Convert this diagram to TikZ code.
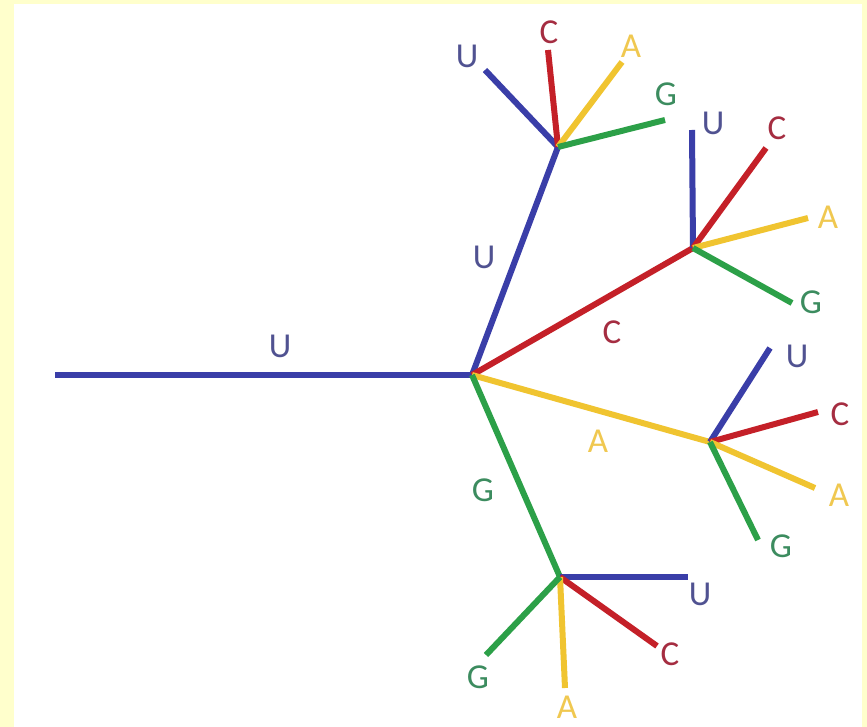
\documentclass[tikz,border=0pt]{standalone}
\usepackage{fontspec}
\setmainfont{Carlito}
\usepackage{tikz}
\usetikzlibrary{positioning}
\definecolor{bgyellow}{RGB}{255,255,204}
\definecolor{myblue}{RGB}{58,62,168}
\definecolor{myred}{RGB}{196,32,40}
\definecolor{myyellow}{RGB}{240,196,48}
\definecolor{mygreen}{RGB}{44,160,72}
\definecolor{lblblue}{RGB}{80,82,145}
\definecolor{lblred}{RGB}{165,45,65}
\definecolor{lblyellow}{RGB}{240,200,80}
\definecolor{lblgreen}{RGB}{60,140,95}

\begin{document}
\begin{tikzpicture}[x=1pt,y=-1pt,
    branch/.style={line width=6pt},
    lbl/.style={inner sep=0pt,font=\fontsize{35}{38}\selectfont}]
    % frame
    \fill[bgyellow] (0,0) rectangle (867,727);
    \fill[white] (14,4) rectangle (862,727);
    \useasboundingbox (0,0) rectangle (867,727);

    % root
    \coordinate (start) at (55,375);
    \coordinate (hub) at (472,375);
    \draw[branch,myblue] (start) -- (hub);
    \node[lbl,lblblue] (lroot) at (280,346) {U};

    % first level
    \coordinate (nu) at (558,147);
    \coordinate (nc) at (693,248);
    \coordinate (na) at (710,442);
    \coordinate (ng) at (560,577);
    \draw[branch,myblue] (hub) -- (nu);
    \draw[branch,myred] (hub) -- (nc);
    \draw[branch,myyellow] (hub) -- (na);
    \draw[branch,mygreen] (hub) -- (ng);
    \node[lbl,lblblue] (lu) at (484,257) {U};
    \node[lbl,lblred] (lc) at (612,332) {C};
    \node[lbl,lblyellow] (la) at (598,441) {A};
    \node[lbl,lblgreen] (lg) at (483,490) {G};

    % after U
    \coordinate (uu) at (485,70);
    \coordinate (uc) at (548,50);
    \coordinate (ua) at (622,62);
    \coordinate (ug) at (665,120);
    \draw[branch,myblue] (nu) -- (uu);
    \draw[branch,myred] (nu) -- (uc);
    \draw[branch,myyellow] (nu) -- (ua);
    \draw[branch,mygreen] (nu) -- (ug);
    \node[lbl,lblblue] (luu) at (467,56) {U};
    \node[lbl,lblred] (luc) at (549,32) {C};
    \node[lbl,lblyellow] (lua) at (631,46) {A};
    \node[lbl,lblgreen] (lug) at (666,94) {G};

    % after C
    \coordinate (cu) at (692,130);
    \coordinate (cc) at (766,148);
    \coordinate (ca) at (808,218);
    \coordinate (cg) at (792,303);
    \draw[branch,myblue] (nc) -- (cu);
    \draw[branch,myred] (nc) -- (cc);
    \draw[branch,myyellow] (nc) -- (ca);
    \draw[branch,mygreen] (nc) -- (cg);
    \node[lbl,lblblue] (lcu) at (713,123) {U};
    \node[lbl,lblred] (lcc) at (777,128) {C};
    \node[lbl,lblyellow] (lca) at (828,217) {A};
    \node[lbl,lblgreen] (lcg) at (811,302) {G};

    % after A
    \coordinate (au) at (770,348);
    \coordinate (ac) at (818,412);
    \coordinate (aa) at (815,488);
    \coordinate (ag) at (758,540);
    \draw[branch,myblue] (na) -- (au);
    \draw[branch,myred] (na) -- (ac);
    \draw[branch,myyellow] (na) -- (aa);
    \draw[branch,mygreen] (na) -- (ag);
    \node[lbl,lblblue] (lau) at (797,356) {U};
    \node[lbl,lblred] (lac) at (840,414) {C};
    \node[lbl,lblyellow] (laa) at (839,495) {A};
    \node[lbl,lblgreen] (lag) at (781,546) {G};

    % after G
    \coordinate (gu) at (688,577);
    \coordinate (gc) at (657,646);
    \coordinate (ga) at (565,688);
    \coordinate (gg) at (486,655);
    \draw[branch,myblue] (ng) -- (gu);
    \draw[branch,myred] (ng) -- (gc);
    \draw[branch,myyellow] (ng) -- (ga);
    \draw[branch,mygreen] (ng) -- (gg);
    \node[lbl,lblblue] (lgu) at (700,594) {U};
    \node[lbl,lblred] (lgc) at (670,654) {C};
    \node[lbl,lblyellow] (lga) at (567,707) {A};
    \node[lbl,lblgreen] (lgg) at (478,677) {G};
\end{tikzpicture}
\end{document}
